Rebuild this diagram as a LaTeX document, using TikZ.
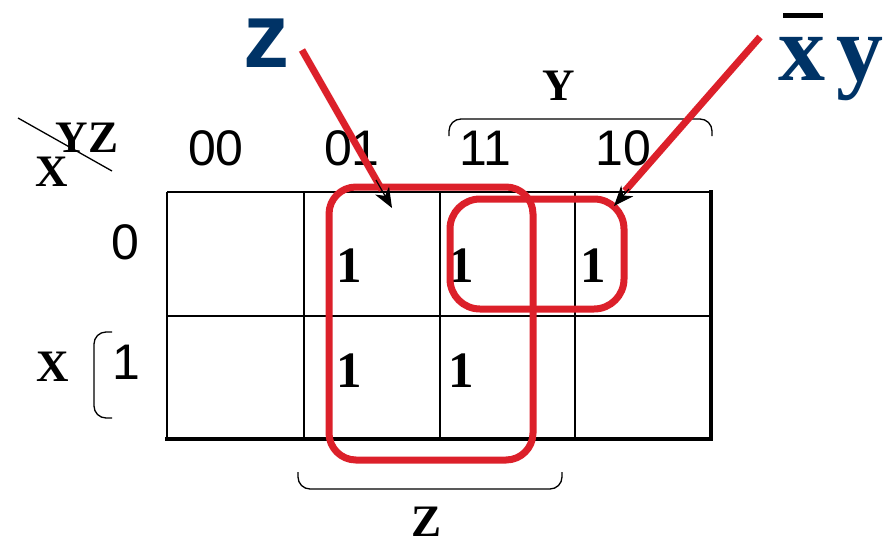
\documentclass[tikz,border=0pt]{standalone}
\usepackage{fontspec}
\setmainfont{Liberation Serif}
\setsansfont{Liberation Sans}
\newfontfamily\termserif{Liberation Serif}[UprightFont=*-Bold,BoldFont=*-Bold]
\usetikzlibrary{arrows.meta}
\definecolor{kred}{RGB}{220,32,42}
\definecolor{kblue}{RGB}{0,51,102}
\begin{document}
\begin{tikzpicture}[x=1pt,y=-1pt,
  gridline/.style={line width=1.6pt,black},
  gridthick/.style={line width=4.5pt,black},
  digit/.style={inner sep=0pt,font=\sffamily\fontsize{50}{50}\selectfont},
  one/.style={inner sep=0pt,font=\rmfamily\bfseries\fontsize{51}{51}\selectfont},
  varlab/.style={inner sep=0pt,font=\rmfamily\bfseries\fontsize{45}{45}\selectfont},
  brace/.style={line width=1.3pt,black,rounded corners=12pt},
  loopline/.style={draw=kred,line width=7pt},
  pointer/.style={draw=kred,line width=7pt},
  tip/.style={line width=1.2pt,black,-{Stealth[length=20pt,width=16pt,inset=6pt]}},
  term/.style={inner sep=0pt,text=kblue}]
\useasboundingbox (0,0) rectangle (888,541);

% grid
\draw[gridline] (167,192) -- (711,192);
\draw[gridline] (167,316) -- (711,316);
\draw[gridline] (167,192) -- (167,439);
\draw[gridline] (304,192) -- (304,439);
\draw[gridline] (440,192) -- (440,439);
\draw[gridline] (575,192) -- (575,439);
\draw[gridthick] (711,190) -- (711,441);
\draw[gridthick] (165,439) -- (713,439);

% corner label
\draw[line width=1.3pt] (18,118) -- (112,171);
\node[varlab] (yz) at (87,138) {YZ};
\node[varlab] (xc) at (52,172) {X};

% column headers
\node[digit] (h00) at (216,148) {00};
\node[digit] (h01) at (352,148) {01};
\node[digit] (h11) at (485,148) {11};
\node[digit] (h10) at (623,148) {10};

% row headers
\node[digit] (r0) at (125,242) {0};
\node[digit] (r1) at (126,362) {1};

% cell values
\node[one] (c01) at (349,266) {1};
\node[one] (c11) at (461,266) {1};
\node[one] (c10) at (593,266) {1};
\node[one] (d01) at (349,371) {1};
\node[one] (d11) at (461,371) {1};

% braces and variable labels
\draw[brace] (449,136) -- (449,119) -- (712,119) -- (712,136);
\node[varlab] (ylab) at (559,86) {Y};
\draw[brace] (298,472) -- (298,489) -- (562,489) -- (562,472);
\node[varlab] (zlab) at (427,522) {Z};
\draw[brace] (112,332) -- (94,332) -- (94,418) -- (112,418);
\node[varlab] (xlab) at (53,367) {X};

% loops
\draw[loopline,rounded corners=27pt] (329,187) rectangle (533,460);
\draw[loopline,rounded corners=30pt] (450,199) rectangle (624,309);
\coordinate (zloop) at (392,208);
\coordinate (xyloop) at (614,206);

% terms
\node[term,anchor=base,font=\sffamily\bfseries\fontsize{92}{92}\selectfont] (zt) at (266,67) {z};
\node[term,anchor=base] (xt) at (802,80) {\termserif\fontsize{94}{94}\selectfont x};
\node[term,anchor=base] (yt) at (860,80) {\termserif\fontsize{94}{94}\selectfont y};
\fill[black] (783,12.5) rectangle (823,18);

% pointers
\coordinate (zs) at (302,50);
\coordinate (ze) at (382,190);
\coordinate (xys) at (760,37);
\coordinate (xye) at (625,191);
\draw[pointer] (zs) -- (ze);
\draw[tip] (376,180) -- (zloop);
\draw[pointer] (xys) -- (xye);
\draw[tip] (629,189) -- (xyloop);
\end{tikzpicture}
\end{document}
